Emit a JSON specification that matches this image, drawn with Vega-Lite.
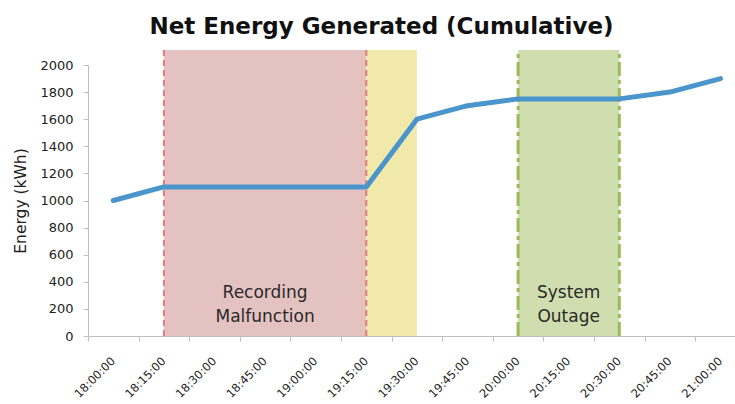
{
  "$schema": "https://vega.github.io/schema/vega-lite/v6.json",
  "width": 647,
  "height": 271,
  "autosize": {"type": "none"},
  "padding": {"left": 88, "top": 65, "right": 0, "bottom": 68},
  "background": "white",
  "title": {
    "text": "Net Energy Generated (Cumulative)",
    "font": "DejaVu Sans",
    "fontSize": 23,
    "fontWeight": "bold",
    "color": "#111111",
    "anchor": "middle",
    "baseline": "alphabetic",
    "dx": -30,
    "offset": -8
  },
  "config": {
    "view": {"stroke": null},
    "axis": {
      "grid": false,
      "domainColor": "#bfbfbf",
      "tickColor": "#bfbfbf",
      "labelColor": "#222222",
      "labelFont": "DejaVu Sans",
      "titleFont": "DejaVu Sans",
      "tickSize": 5,
      "labelOverlap": false
    }
  },
  "datasets": {
    "series": [
      {"time": "2020-01-01T18:00:00Z", "energy": 1000},
      {"time": "2020-01-01T18:15:00Z", "energy": 1100},
      {"time": "2020-01-01T18:30:00Z", "energy": 1100},
      {"time": "2020-01-01T18:45:00Z", "energy": 1100},
      {"time": "2020-01-01T19:00:00Z", "energy": 1100},
      {"time": "2020-01-01T19:15:00Z", "energy": 1100},
      {"time": "2020-01-01T19:30:00Z", "energy": 1600},
      {"time": "2020-01-01T19:45:00Z", "energy": 1700},
      {"time": "2020-01-01T20:00:00Z", "energy": 1750},
      {"time": "2020-01-01T20:15:00Z", "energy": 1750},
      {"time": "2020-01-01T20:30:00Z", "energy": 1750},
      {"time": "2020-01-01T20:45:00Z", "energy": 1800},
      {"time": "2020-01-01T21:00:00Z", "energy": 1900}
    ],
    "regions": [
      {"start": "2020-01-01T18:15:00Z", "end": "2020-01-01T19:15:00Z", "kind": "malfunction", "label": ["Recording", "Malfunction"]},
      {"start": "2020-01-01T19:15:00Z", "end": "2020-01-01T19:30:00Z", "kind": "gap", "label": null},
      {"start": "2020-01-01T20:00:00Z", "end": "2020-01-01T20:30:00Z", "kind": "outage", "label": ["System", "Outage"]}
    ]
  },
  "layer": [
    {
      "data": {"name": "regions"},
      "mark": {"type": "rect", "clip": false},
      "encoding": {
        "x": {
          "field": "start",
          "type": "temporal",
          "scale": {
            "type": "utc",
            "domain": [
              {"year": 2020, "month": 1, "date": 1, "hours": 17, "minutes": 52, "seconds": 30, "utc": true},
              {"year": 2020, "month": 1, "date": 1, "hours": 21, "minutes": 4, "seconds": 18, "utc": true}
            ]
          },
          "axis": {
            "title": null,
            "format": "%H:%M:%S",
            "labelAngle": -45,
            "tickCount": 13,
            "tickOffset": -25.3,
            "labelOffset": 21,
            "labelPadding": 14,
            "labelFontSize": 11.5
          }
        },
        "x2": {"field": "end"},
        "y": {
          "datum": 0,
          "type": "quantitative",
          "scale": {"domain": [0, 2000], "nice": false},
          "axis": {
            "title": "Energy (kWh)",
            "titleFontSize": 15.5,
            "titleFontWeight": "normal",
            "titleColor": "#222222",
            "titlePadding": 11,
            "format": "d",
            "labelFontSize": 13,
            "tickCount": 11,
            "values": [0, 200, 400, 600, 800, 1000, 1200, 1400, 1600, 1800, 2000],
            "labelPadding": 10,
            "labelOverlap": false
          }
        },
        "y2": {"datum": 2110},
        "color": {
          "field": "kind",
          "type": "nominal",
          "scale": {"domain": ["malfunction", "gap", "outage"], "range": ["#e5c2c2", "#f1e9a9", "#d0ddae"]},
          "legend": null
        }
      }
    },
    {
      "data": {"name": "regions"},
      "transform": [
        {"filter": "datum.kind === 'malfunction'"},
        {"fold": ["start", "end"], "as": ["edge", "t"]}
      ],
      "mark": {"type": "rule", "color": "#e07c7c", "strokeWidth": 2, "strokeDash": [6, 4], "clip": false},
      "encoding": {
        "x": {"field": "t", "type": "temporal"},
        "y": {"datum": 0, "type": "quantitative"},
        "y2": {"datum": 2110}
      }
    },
    {
      "data": {"name": "regions"},
      "transform": [
        {"filter": "datum.kind === 'outage'"},
        {"fold": ["start", "end"], "as": ["edge", "t"]}
      ],
      "mark": {"type": "rule", "color": "#9bbb59", "strokeWidth": 3, "strokeDash": [14, 4, 4, 4], "clip": false},
      "encoding": {
        "x": {"field": "t", "type": "temporal"},
        "y": {"datum": 0, "type": "quantitative"},
        "y2": {"datum": 2110}
      }
    },
    {
      "data": {"name": "series"},
      "mark": {"type": "line", "color": "#4a95cc", "strokeWidth": 5, "interpolate": "linear", "strokeJoin": "round", "strokeCap": "round"},
      "encoding": {
        "x": {"field": "time", "type": "temporal"},
        "y": {"field": "energy", "type": "quantitative"}
      }
    },
    {
      "data": {"name": "regions"},
      "transform": [
        {"filter": "datum.label != null"},
        {"calculate": "(time(datum.start) + time(datum.end)) / 2", "as": "mid"}
      ],
      "mark": {"type": "text", "font": "DejaVu Sans", "fontSize": 17, "color": "#2a2a2a", "lineHeight": 24, "baseline": "middle"},
      "encoding": {
        "x": {"field": "mid", "type": "temporal"},
        "y": {"datum": 317, "type": "quantitative"},
        "text": {"field": "label"}
      }
    }
  ]
}
